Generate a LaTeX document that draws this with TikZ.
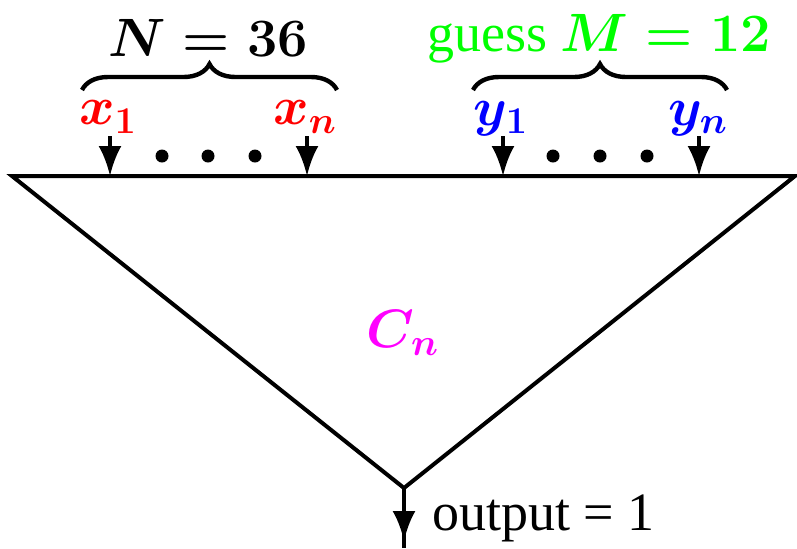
\RequirePackage{fix-cm}
\documentclass[tikz,border=0pt]{standalone}
\usepackage[no-math]{fontspec}
\setmainfont{Liberation Serif}
\usetikzlibrary{arrows.meta,decorations.pathreplacing}
\definecolor{pmag}{rgb}{1,0,1}
\definecolor{pgreen}{rgb}{0,1,0}
\definecolor{pred}{rgb}{1,0,0}
\definecolor{pblue}{rgb}{0,0,1}
\begin{document}
\begin{tikzpicture}[x=0.5pt,y=-0.5pt,line width=2pt,
  big/.style={font=\fontsize{27}{32}\selectfont\boldmath, inner sep=0pt},
  plain/.style={font=\fontsize{27}{32}\selectfont, inner sep=0pt},
  inarrow/.style={-{Latex[length=15pt,width=11.5pt]}},
  dotn/.style={circle, fill=black, minimum size=6.5pt, inner sep=0pt},
  bracest/.style={decorate, line width=2.2pt, decoration={brace, amplitude=13pt}}]
\useasboundingbox (0,0) rectangle (797,548);
% triangle
\coordinate (L) at (12,176);
\coordinate (R) at (795,176);
\coordinate (B) at (404,488);
\draw[line join=miter] (L) -- (R) -- (B) -- cycle;
% input arrows
\foreach \n/\x in {a1/110,a2/307,b1/503,b2/699}{
  \coordinate (\n s) at (\x,136);
  \coordinate (\n e) at (\x,176);
  \draw[inarrow] (\n s) -- (\n e);
}
% dots
\node[dotn] (d1) at (162,156) {};
\node[dotn] (d2) at (208,156) {};
\node[dotn] (d3) at (255,156) {};
\node[dotn] (d4) at (553,156) {};
\node[dotn] (d5) at (600,156) {};
\node[dotn] (d6) at (647,156) {};
% labels
\node[big, text=pred] (x1) at (108,117) {$x_1$};
\node[big, text=pred] (xn) at (305,117) {$x_n$};
\node[big, text=pblue] (y1) at (501,119) {$y_1$};
\node[big, text=pblue] (yn) at (698,119) {$y_n$};
% braces
\coordinate (br1a) at (82,90);
\coordinate (br1b) at (337,90);
\coordinate (br2a) at (473,90);
\coordinate (br2b) at (727,90);
\draw[bracest] (br1a) -- (br1b);
\draw[bracest] (br2a) -- (br2b);
\node[big, anchor=base] (N) at (208,56) {$N=36$};
\node[big, anchor=base, text=pgreen] (M) at (599,51) {guess $M=12$};
% circuit
\node[big, text=pmag] (C) at (403,333) {$C_n$};
% output
\coordinate (oe) at (404,548);
\coordinate (ot) at (404,541);
\draw (B) -- (oe);
\draw[inarrow] (B) -- (ot);
\node[plain, anchor=base west] (out) at (430,530) {output = 1};
\end{tikzpicture}
\end{document}
